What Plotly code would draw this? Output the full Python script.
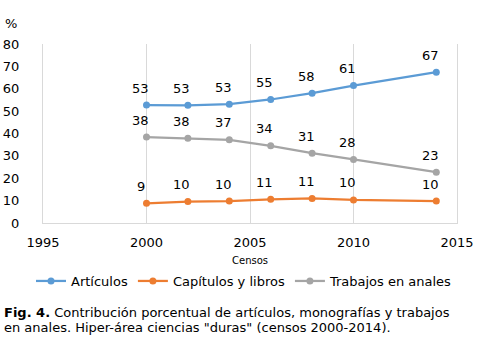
import plotly.graph_objects as go

years = [2000, 2002, 2004, 2006, 2008, 2010, 2014]
articulos = [52.7, 52.6, 53.1, 55.2, 58.0, 61.4, 67.4]
capitulos = [8.8, 9.6, 9.8, 10.6, 11.0, 10.3, 9.8]
trabajos = [38.4, 37.9, 37.2, 34.5, 31.2, 28.4, 22.7]

series = [
    ("Artículos", articulos, "#5B9BD5"),
    ("Capítulos y libros", capitulos, "#ED7D31"),
    ("Trabajos en anales", trabajos, "#A5A5A5"),
]

FONT = "DejaVu Sans"
fig = go.Figure()
annotations = []
for name, vals, color in series:
    fig.add_trace(go.Scatter(
        x=years, y=vals, name=name, mode="lines+markers",
        line=dict(color=color, width=2.25),
        marker=dict(color=color, size=7),
    ))
    for x, v in zip(years, vals):
        annotations.append(dict(
            x=x, y=v, text=f"{v:.0f}", showarrow=False,
            yshift=17, xshift=-6,
            font=dict(family=FONT, size=13, color="#000000"),
        ))

annotations.append(dict(xref="paper", yref="paper", x=-32/414, y=1 + 21/179,
                        text="%", showarrow=False, xanchor="center", yanchor="middle",
                        font=dict(family=FONT, size=13, color="#000000")))
annotations.append(dict(xref="paper", yref="paper", x=0.5, y=-37/179,
                        text="Censos", showarrow=False, xanchor="center", yanchor="middle",
                        font=dict(family=FONT, size=10, color="#000000")))
annotations.append(dict(xref="paper", yref="paper", x=-41/414, y=-(312 - 223)/179,
                        text="<b>Fig. 4.</b> Contribución porcentual de artículos, monografías y trabajos",
                        showarrow=False, xanchor="left", yanchor="middle",
                        font=dict(family=FONT, size=13, color="#000000")))
annotations.append(dict(xref="paper", yref="paper", x=-41/414, y=-(327 - 223)/179,
                        text="en anales. Hiper-área ciencias \"duras\" (censos 2000-2014).",
                        showarrow=False, xanchor="left", yanchor="middle",
                        font=dict(family=FONT, size=13, color="#000000")))

fig.update_layout(
    width=477, height=357,
    margin=dict(l=43, r=20, t=44, b=134, autoexpand=False),
    paper_bgcolor="white", plot_bgcolor="white",
    font=dict(family=FONT, size=13, color="#000000"),
    showlegend=True,
    legend=dict(orientation="h", x=-12/414, xanchor="left",
                y=-(281 - 223)/179, yanchor="middle",
                font=dict(family=FONT, size=13, color="#000000"),
                itemwidth=30, tracegroupgap=0),
    annotations=annotations,
    xaxis=dict(range=[1995, 2015], dtick=5, tick0=1995, showgrid=True,
               gridcolor="#D9D9D9", gridwidth=1, zeroline=False,
               showline=True, linecolor="#D9D9D9", linewidth=1,
               ticks="", ticklabelstandoff=7, automargin=False,
               tickfont=dict(family=FONT, size=13, color="#000000"),
               fixedrange=True),
    yaxis=dict(range=[0, 80], dtick=10, showgrid=False, zeroline=False,
               showline=True, mirror=True, linecolor="#D9D9D9", linewidth=1,
               ticks="", ticklabelstandoff=20, automargin=False,
               tickfont=dict(family=FONT, size=13, color="#000000"),
               fixedrange=True),
)

fig.write_html("out.html", config={"displayModeBar": False, "staticPlot": True},
               post_script="document.body.style.margin='0';")
